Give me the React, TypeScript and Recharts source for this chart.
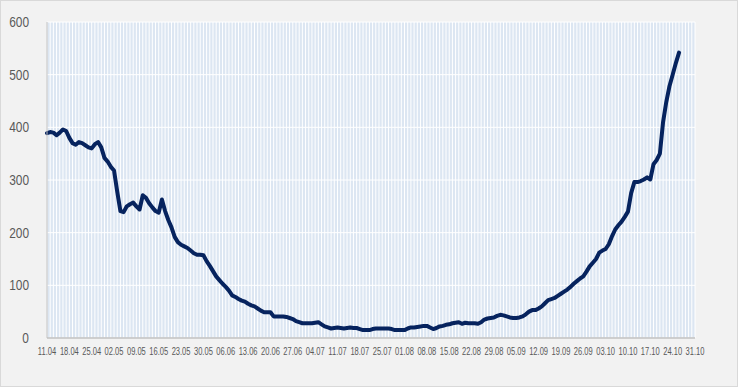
import { LineChart, Line, XAxis, YAxis, CartesianGrid } from "recharts";

// daily values starting 11.04
const values = [
  389, 391, 390, 385, 390, 396, 393, 380, 370, 367,
  372, 370, 366, 362, 360, 368, 372, 362, 342, 335,
  325, 318, 278, 241, 239, 250, 254, 257, 250, 244,
  271, 266, 256, 248, 241, 238, 263, 241, 224, 210,
  192, 182, 177, 174, 171, 166, 161, 158, 158, 157,
  146, 137, 127, 117, 110, 103, 97, 90, 81, 78,
  74, 71, 69, 65, 62, 60, 56, 52, 49, 49,
  49, 41, 41, 41, 41, 40, 38, 36, 32, 30,
  28, 28, 28, 28, 29, 30, 26, 22, 20, 18,
  19, 20, 19, 18, 19, 20, 19, 19, 17, 15,
  15, 15, 17, 18, 18, 18, 18, 18, 17, 15,
  15, 15, 15, 18, 20, 20, 21, 22, 23, 23,
  20, 17, 19, 22, 23, 25, 26, 28, 29, 30,
  27, 29, 28, 28, 28, 27, 30, 35, 37, 38,
  39, 42, 44, 43, 41, 39, 38, 38, 39, 41,
  45, 50, 53, 53, 56, 60, 66, 72, 74, 76,
  80, 84, 88, 92, 97, 103, 108, 113, 117, 126,
  136, 143, 150, 162, 166, 169, 178, 193, 206, 214,
  221, 230, 240, 275, 296, 296, 298, 301, 305, 301,
  330, 338, 350, 410, 448, 478, 500, 522, 542,
];

const tickLabels = [
  "11.04", "18.04", "25.04", "02.05", "09.05", "16.05", "23.05", "30.05",
  "06.06", "13.06", "20.06", "27.06", "04.07", "11.07", "18.07", "25.07",
  "01.08", "08.08", "15.08", "22.08", "29.08", "05.09", "12.09", "19.09",
  "26.09", "03.10", "10.10", "17.10", "24.10", "31.10",
];

const yTicks = [0, 100, 200, 300, 400, 500, 600];

const lastDay = (tickLabels.length - 1) * 7;
const xTicks = tickLabels.map((_, k) => k * 7);
const dayTicks = Array.from({ length: lastDay + 1 }, (_, k) => k);
const data = values.map((v, i) => ({ i, v }));

const font = "'Liberation Sans', Arial, sans-serif";

const XTick = ({ x, y, payload }: any) => (
  <text
    transform={`translate(${x},${y + 9}) scale(0.72,1)`}
    textAnchor="middle"
    fontSize={10.5}
    fontFamily={font}
    fill="#595959"
  >
    {tickLabels[Math.round(payload.value / 7)]}
  </text>
);

const YTick = ({ x, y, payload }: any) => (
  <text
    transform={`translate(${x},${y + 5}) scale(0.85,1)`}
    textAnchor="end"
    fontSize={14}
    fontFamily={font}
    fill="#595959"
  >
    {payload.value}
  </text>
);

const dayLines = ({ xAxis, offset }: any) =>
  dayTicks.map((d) =>
    xAxis && typeof xAxis.scale === "function"
      ? xAxis.scale(d)
      : offset.left + (d / lastDay) * offset.width
  );

export default function App() {
  return (
    <div
      style={{
        position: "absolute",
        left: 0,
        top: 0,
        width: 736,
        height: 385,
        background: "#f2f2f2",
        border: "1px solid #d9d9d9",
      }}
    >
      <LineChart
        width={736}
        height={385}
        data={data}
        margin={{ top: 21, right: 42, bottom: 26, left: 0 }}
      >
        <CartesianGrid
          fill="#dce6f2"
          fillOpacity={1}
          stroke="#ffffff"
          strokeWidth={1}
          verticalCoordinatesGenerator={dayLines}
        />
        <XAxis
          dataKey="i"
          type="number"
          domain={[0, lastDay]}
          ticks={xTicks}
          interval={0}
          tickLine={false}
          axisLine={{ stroke: "#bfbfbf", strokeWidth: 1.5 }}
          height={22}
          tick={<XTick />}
        />
        <YAxis
          domain={[0, 600]}
          ticks={yTicks}
          interval={0}
          width={46}
          tickLine={false}
          axisLine={{ stroke: "#bfbfbf", strokeWidth: 1 }}
          tickMargin={12}
          tick={<YTick />}
        />
        <Line
          dataKey="v"
          type="linear"
          stroke="#06235e"
          strokeWidth={4}
          dot={false}
          strokeLinejoin="round"
          strokeLinecap="round"
          isAnimationActive={false}
        />
      </LineChart>
    </div>
  );
}
